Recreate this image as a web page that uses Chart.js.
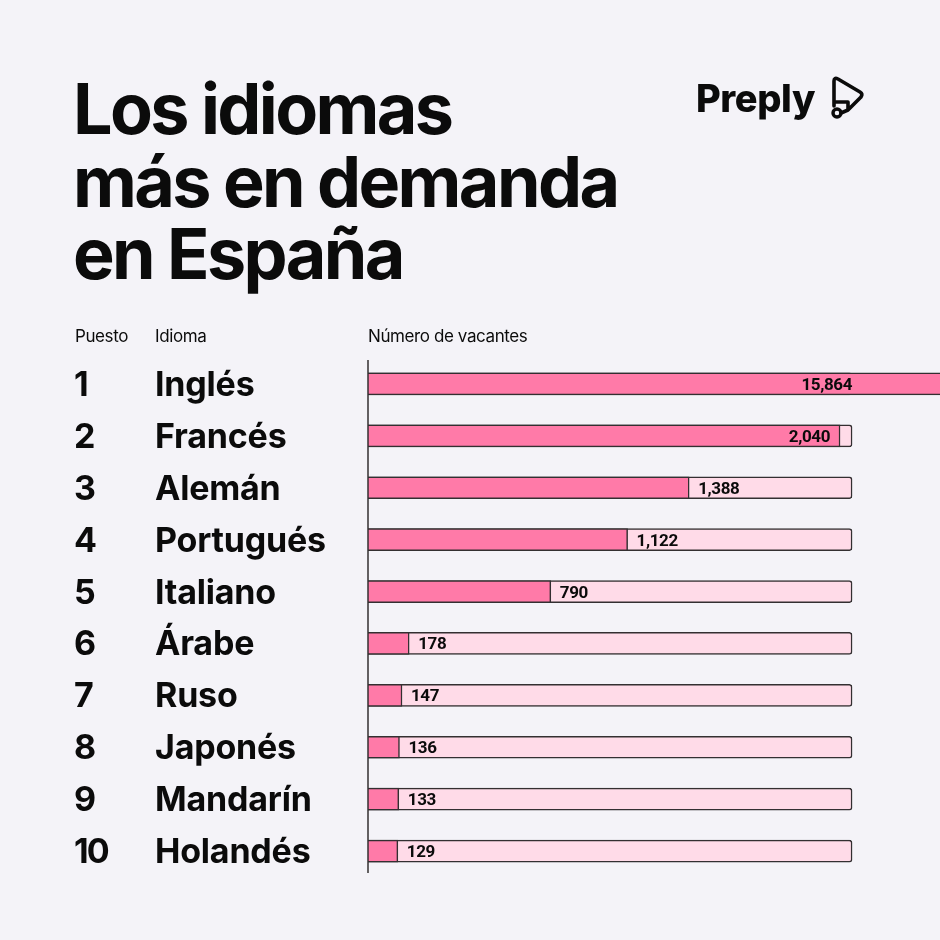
<!DOCTYPE html>
<html lang="es">
<head>
<meta charset="utf-8">
<title>Los idiomas más en demanda en España</title>
<script src="https://cdn.jsdelivr.net/npm/chart.js@4.4.1/dist/chart.umd.min.js"></script>
<style>
  html, body { margin: 0; padding: 0; background: #f4f3f8; }
  #page { position: relative; width: 940px; height: 940px; overflow: hidden; background: #f4f3f8; }
  #chart { position: absolute; left: 0; top: 0; }
  h1 {
    position: absolute; left: 73px; top: 73px; margin: 0;
    font-family: Inter, sans-serif; font-weight: 700; font-size: 70px;
    line-height: 72.5px; letter-spacing: -2.6px; color: #0b0b0b;
  }
  .logo-text {
    position: absolute; left: 696px; top: 73px;
    font-family: Inter, sans-serif; font-weight: 800; font-size: 38px;
    letter-spacing: -0.4px; color: #0b0b0b; line-height: 50px;
  }
  .logo-icon { position: absolute; left: 826px; top: 72px; }
</style>
</head>
<body>
<div id="page">
  <canvas id="chart" width="940" height="940"></canvas>
  <h1>Los idiomas<br>más en demanda<br>en España</h1>
  <div class="logo-text">Preply</div>
  <svg class="logo-icon" width="42" height="50" viewBox="0 0 42 50">
    <path d="M8 34 L8 9 Q8 5 12 7 L34 20 Q37 22 35 25 L22 38 M8 30 L22 30 L22 38 L15 41"
          fill="none" stroke="#0b0b0b" stroke-width="3.6" stroke-linejoin="round" stroke-linecap="round"/>
    <circle cx="11" cy="41" r="4" fill="none" stroke="#0b0b0b" stroke-width="3.4"/>
  </svg>
</div>

<script>
// --- DATA ---
const ranks = ['1', '2', '3', '4', '5', '6', '7', '8', '9', '10'];
const languages = ['Inglés', 'Francés', 'Alemán', 'Portugués', 'Italiano', 'Árabe', 'Ruso', 'Japonés', 'Mandarín', 'Holandés'];
const vacancies = [15864, 2040, 1388, 1122, 790, 178, 147, 136, 133, 129];
const trackMax = 2092;   // where the light pink tracks end
const axisMax = 2472;    // value at the right edge of the page

const headers = { rank: 'Puesto', language: 'Idioma', value: 'Número de vacantes' };

// --- COLOURS ---
const INK = '#0b0b0b';
const EDGE = '#332f31';
const PINK = '#ff7aa8';
const PINK_LIGHT = '#ffdbe8';

// labels, header row and the axis line are drawn here
const tableLabels = {
    id: 'tableLabels',
    afterDatasetsDraw(chart) {
        const ctx = chart.ctx;
        const yScale = chart.scales.y;
        const area = chart.chartArea;
        const bars = chart.getDatasetMeta(0).data;
        const tracks = chart.getDatasetMeta(1).data;

        ctx.save();
        // header row
        ctx.fillStyle = INK;
        ctx.font = '400 17px Inter, sans-serif';
        ctx.letterSpacing = '-0.4px';
        ctx.textBaseline = 'alphabetic';
        ctx.textAlign = 'left';
        ctx.fillText(headers.rank, 75, 342);
        ctx.fillText(headers.language, 155, 342);
        ctx.fillText(headers.value, area.left, 342);

        // rank + language
        ctx.font = '700 34px Inter, sans-serif';
        languages.forEach((lang, i) => {
            const y = yScale.getPixelForValue(i) + 12;
            ctx.letterSpacing = '-2px';
            ctx.fillText(ranks[i], 74, y);
            ctx.letterSpacing = '-0.2px';
            ctx.fillText(lang, 155, y);
        });

        // axis line
        ctx.strokeStyle = EDGE;
        ctx.lineWidth = 1.5;
        ctx.beginPath();
        ctx.moveTo(area.left, area.top + 2);
        ctx.lineTo(area.left, area.bottom - 4);
        ctx.stroke();

        // value labels
        ctx.font = '700 17px Roboto, sans-serif';
        ctx.letterSpacing = '-0.4px';
        vacancies.forEach((v, i) => {
            const bar = bars[i];
            const trackEnd = tracks[i].x;
            const text = v.toLocaleString('en-US');
            const w = ctx.measureText(text).width;
            const y = bar.y + 6;
            if (bar.x + 10 + w + 6 > trackEnd) {
                ctx.textAlign = 'right';
                ctx.fillText(text, Math.min(bar.x - 10, trackEnd), y);
            } else {
                ctx.textAlign = 'left';
                ctx.fillText(text, bar.x + 9, y);
            }
        });
        ctx.restore();
    }
};

new Chart(document.getElementById('chart'), {
    type: 'bar',
    data: {
        labels: languages,
        datasets: [
            {
                label: headers.value,
                data: vacancies,
                backgroundColor: PINK,
                borderColor: EDGE,
                borderWidth: 1.5,
                borderSkipped: 'start',
                barThickness: 22,
                order: 1
            },
            {
                label: 'track',
                data: languages.map(() => trackMax),
                backgroundColor: PINK_LIGHT,
                borderColor: EDGE,
                borderWidth: 1.5,
                borderSkipped: 'start',
                borderRadius: { topRight: 3, bottomRight: 3 },
                barThickness: 22,
                order: 2
            }
        ]
    },
    options: {
        indexAxis: 'y',
        responsive: false,
        animation: false,
        events: [],
        layout: { padding: { left: 368, right: 0, top: 358, bottom: 63 } },
        plugins: { legend: { display: false }, tooltip: { enabled: false } },
        scales: {
            x: { display: false, min: 0, max: axisMax },
            y: { display: false, stacked: true }
        }
    },
    plugins: [tableLabels]
});
</script>
</body>
</html>
